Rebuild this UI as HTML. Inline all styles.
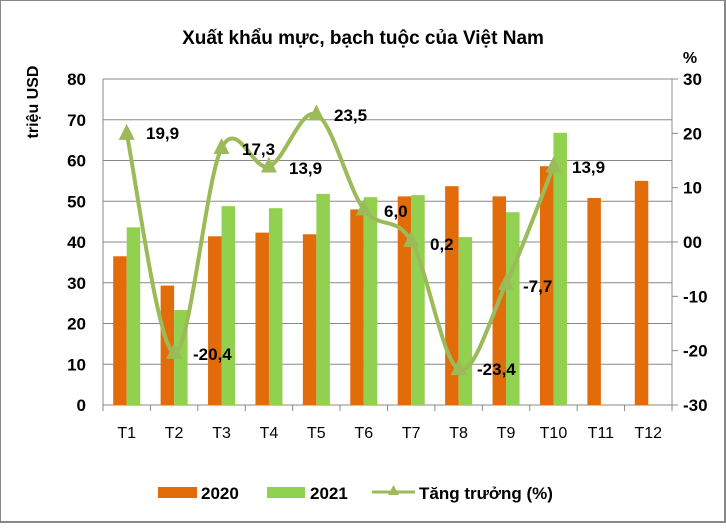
<!DOCTYPE html>
<html><head><meta charset="utf-8"><style>
html,body{margin:0;padding:0;background:#fff;}
svg{display:block;font-family:"Liberation Sans",sans-serif;}
</style></head><body>
<svg id="c" width="726" height="529" xmlns="http://www.w3.org/2000/svg">
<rect x="0.5" y="0.5" width="724" height="521" fill="#fff" stroke="#888" stroke-width="1"/>
<line x1="0" y1="522" x2="726" y2="522" stroke="#888" stroke-width="2"/>
<line x1="725" y1="0" x2="725" y2="522" stroke="#888" stroke-width="2"/>
<text x="363" y="44" text-anchor="middle" font-size="19" font-weight="bold">Xuất khẩu mực, bạch tuộc của Việt Nam</text>
<text transform="translate(38,102) rotate(-90)" text-anchor="middle" font-size="16" font-weight="bold">triệu USD</text>
<text x="690" y="63" text-anchor="middle" font-size="16" font-weight="bold">%</text>
<g id="g"></g>
<g font-size="17" font-weight="bold">
<rect x="158" y="487" width="39" height="11" fill="#e36c0a"/>
<text x="201" y="499">2020</text>
<rect x="267" y="487" width="38" height="11" fill="#92d050"/>
<text x="310" y="499">2021</text>
<line x1="372" y1="492" x2="415" y2="492" stroke="#9bbb59" stroke-width="3"/>
<polygon points="393.5,485 399,495 388,495" fill="#9bbb59"/>
<text x="419" y="499">Tăng trưởng (%)</text>
</g>
</svg>
<script>
var g=document.getElementById('g'),s='';
var L=103,R=672,T=79,B=405,cw=(R-L)/12;
function yl(v){return B-(v/80)*(B-T);}
function yr(v){return 242-v*(B-T)/60;}
for(var i=0;i<=8;i++){var y=yl(i*10);s+='<line x1="'+L+'" y1="'+y+'" x2="'+R+'" y2="'+y+'" stroke="#888" stroke-width="1"/>';
s+='<text x="86" y="'+(y+6)+'" text-anchor="end" font-size="17" font-weight="bold">'+(i*10)+'</text>';}
s+='<line x1="'+L+'" y1="'+T+'" x2="'+L+'" y2="'+B+'" stroke="#888"/>';
s+='<line x1="'+R+'" y1="'+T+'" x2="'+R+'" y2="'+B+'" stroke="#888"/>';
var rl=['30','20','10','00','-10','-20','-30'];
for(var i=0;i<7;i++){var y=T+i*(B-T)/6;s+='<line x1="'+R+'" y1="'+y+'" x2="'+(R+6)+'" y2="'+y+'" stroke="#888"/>';
s+='<text x="683" y="'+(y+6)+'" font-size="17" font-weight="bold">'+rl[i]+'</text>';}
var a=[36.5,29.3,41.4,42.3,41.9,48,51.2,53.7,51.2,58.6,50.8,55];
var b=[43.6,23.3,48.8,48.3,51.8,51,51.5,41.2,47.3,66.8];
for(var i=0;i<12;i++){var cx=L+cw*(i+0.5);
s+='<line x1="'+(L+cw*i)+'" y1="'+B+'" x2="'+(L+cw*i)+'" y2="'+(B+6)+'" stroke="#888"/>';
s+='<rect x="'+(cx-13.5)+'" y="'+yl(a[i])+'" width="13.5" height="'+(B-yl(a[i]))+'" fill="#e36c0a"/>';
if(i<10)s+='<rect x="'+cx+'" y="'+yl(b[i])+'" width="13.5" height="'+(B-yl(b[i]))+'" fill="#92d050"/>';
s+='<text x="'+cx+'" y="438" text-anchor="middle" font-size="16">T'+(i+1)+'</text>';}
s+='<line x1="'+R+'" y1="'+B+'" x2="'+R+'" y2="'+(B+6)+'" stroke="#888"/>';
var v=[19.9,-20.4,17.3,13.9,23.5,6.0,0.2,-23.4,-7.7,13.9];
var P=v.map(function(t,i){return [L+cw*(i+0.5),yr(t)];});
var d='M'+P[0][0]+','+P[0][1];
for(var i=0;i<P.length-1;i++){var p0=P[i-1]||P[i],p1=P[i],p2=P[i+1],p3=P[i+2]||P[i+1];
d+=' C'+(p1[0]+(p2[0]-p0[0])/6)+','+(p1[1]+(p2[1]-p0[1])/6)+' '+(p2[0]-(p3[0]-p1[0])/6)+','+(p2[1]-(p3[1]-p1[1])/6)+' '+p2[0]+','+p2[1];}
s+='<path d="'+d+'" fill="none" stroke="#9bbb59" stroke-width="4"/>';
P.forEach(function(p){s+='<polygon points="'+p[0]+','+(p[1]-10)+' '+(p[0]+8)+','+(p[1]+6)+' '+(p[0]-8)+','+(p[1]+6)+'" fill="#9bbb59"/>';});
var lab=[['19,9',146,133],['-20,4',193,354],['17,3',242,149],['13,9',289,168],['23,5',334,115],['6,0',384,211],['0,2',430,244],['-23,4',477,369],['-7,7',523,286],['13,9',572,167]];
lab.forEach(function(l){s+='<text x="'+l[1]+'" y="'+(l[2]+6)+'" font-size="17" font-weight="bold">'+l[0]+'</text>';});
g.innerHTML=s;
</script>
</body></html>
